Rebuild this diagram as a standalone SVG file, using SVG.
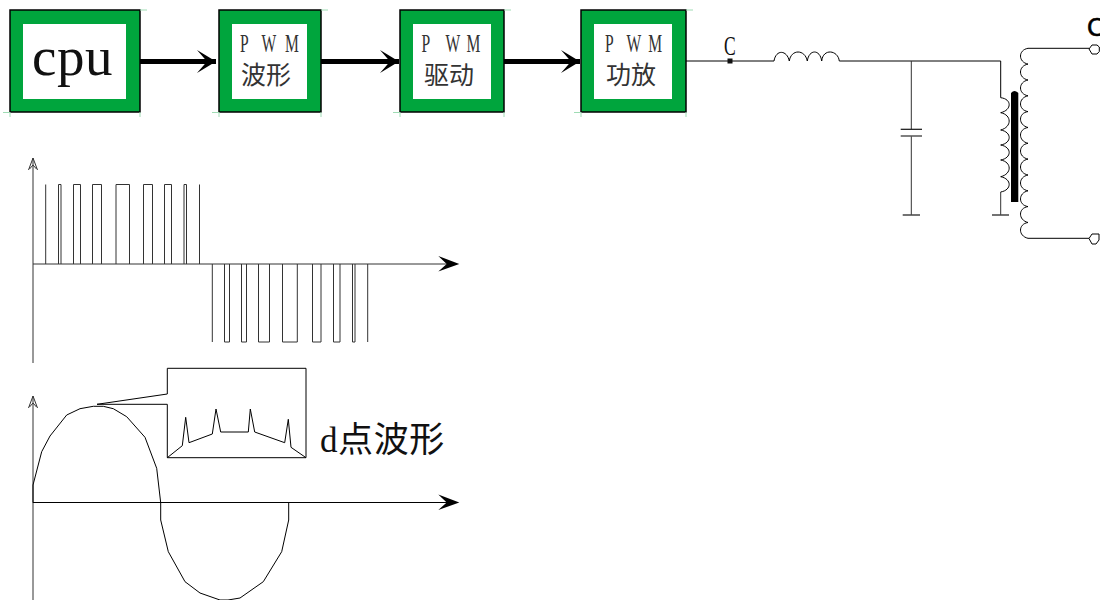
<svg xmlns="http://www.w3.org/2000/svg" width="1100" height="600" viewBox="0 0 1100 600">
<style>
.box{fill:#00a53d;stroke:#000;stroke-width:1.5}
.in{fill:#fff}
.tick{stroke:#9fdcb4;stroke-width:1;fill:none}
.w{fill:none;stroke:#000;stroke-width:1}
.g{fill:none;stroke:#333;stroke-width:1}
.thick{fill:none;stroke:#000;stroke-width:5}
.s{font-family:"Liberation Serif","Noto Sans CJK SC",serif;fill:#111}
.cjk{font-family:"Noto Sans CJK SC","Liberation Serif",serif;font-size:25px;fill:#333}
.pwm{font-family:"Liberation Serif",serif;font-size:26px;fill:#333}
</style>
<defs>
<marker id="big" markerUnits="userSpaceOnUse" markerWidth="22" markerHeight="26" refX="19" refY="12" orient="auto"><path d="M0,0.5 L19,12 L0,23.5 L10,12 Z" fill="#000"/></marker>
</defs>

<g id="cpu">
<rect class="box" x="10" y="10" width="130" height="102"/><rect class="in" x="23" y="24" width="103" height="75"/>
<path class="tick" d="M140,10H147M3,112.500H10M10,112V117M140,112V117"/>
<text class="s" x="32" y="75" font-size="55" letter-spacing=".6">cpu</text>
</g>
<g id="pwm-wave">
<rect class="box" x="219" y="10" width="102" height="102"/><rect class="in" x="232" y="24" width="75" height="75"/>
<path class="tick" d="M321,10H328M212,112.500H219M219,112V117M321,112V117"/>
<text class="pwm" transform="translate(240,52) scale(.6,1)" x="0 17 36 55 75">P W M</text>
<text class="cjk" x="241" y="84">波形</text>
</g>
<g id="pwm-drive">
<rect class="box" x="400" y="10" width="104" height="102"/><rect class="in" x="413" y="24" width="78" height="75"/>
<path class="tick" d="M504,10H511M393,112.500H400M400,112V117M504,112V117"/>
<text class="pwm" transform="translate(421.500,52) scale(.6,1)" x="0 19 40 57 75">P W M</text>
<text class="cjk" x="424" y="84">驱动</text>
</g>
<g id="pwm-amp">
<rect class="box" x="581" y="10" width="105" height="102"/><rect class="in" x="594" y="24" width="78" height="75"/>
<path class="tick" d="M686,10H693M574,112.500H581M581,112V117M686,112V117"/>
<text class="pwm" transform="translate(605,52) scale(.6,1)" x="0 18 36 55 72">P W M</text>
<text class="cjk" x="606" y="84">功放</text>
</g>

<g id="connectors">
<path class="thick" d="M140,61.500H216" marker-end="url(#big)"/>
<path class="thick" d="M321,61.500H399" marker-end="url(#big)"/>
<path class="thick" d="M504,61.500H580" marker-end="url(#big)"/>
<path class="w" d="M686,61H774"/>
<path class="w" d="M839.300,61H1000.700V97.700"/>
<path class="g" d="M911.300,61V129.300M911.300,136V215M1000.700,192V215"/>
<path class="w" d="M1028,48.300H1089M1028,238.300H1089"/>
</g>

<g id="node-c">
<rect x="727.500" y="58.500" width="5" height="5" fill="#111"/>
<text class="s" transform="translate(724,55) scale(.65,1)" x="0" y="0" font-size="27">C</text>
</g>
<g id="inductor">
<path class="w" d="M774,61C776,49 787,50 789.300,61C791,49 805,49 807.300,61C809,49 820,49 821.700,61C823,48 838,50 839.300,61"/>
</g>
<g id="capacitor">
<path d="M900.700,129.300H922" stroke="#111" stroke-width="1.200" fill="none"/>
<path d="M900.700,136H922" stroke="#555" stroke-width="1.500" fill="none"/>
<path d="M902.700,215H920" stroke="#444" stroke-width="1.500" fill="none"/>
</g>
<g id="transformer">
<path class="w" d="M1000.700,97.700C1012,99 1012,110 1000.700,112.700C1012,115 1012,127 1000.700,130C1012,132 1012,143 1000.700,145C1012,147 1012,158 1000.700,160C1012,162 1012,174 1000.700,176.700C1012,179 1012,190 1000.700,192"/>
<path d="M992,215H1009" stroke="#444" stroke-width="1.500" fill="none"/>
<path d="M1011,202V93Q1014.500,89 1018.300,93V202Z" fill="#000"/>
<path class="w" d="M1028,48.300C1018,50 1018,62 1028,64.100C1018,66 1018,78 1028,80C1018,82 1018,94 1028,95.800C1018,98 1018,110 1028,111.600C1018,113 1018,125 1028,127.500C1018,129 1018,141 1028,143.300C1018,145 1018,157 1028,159.100C1018,161 1018,173 1028,175C1018,177 1018,189 1028,190.800C1018,193 1018,205 1028,206.600C1018,208 1018,220 1028,222.500C1018,224 1018,236 1028,238.300"/>
</g>
<g id="terminals">
<path class="w" d="M1089,49L1092,45H1097L1099.300,47V51.500L1097,54H1092Z"/>
<path class="w" d="M1089,238.500L1092,234H1099V240L1096,244H1092Z"/>
<text x="1087" y="36" font-family="Liberation Sans,sans-serif" font-size="26" stroke="#000" stroke-width=".6" fill="#000">C</text>
</g>

<g id="pwm-waveform">
<path class="g" d="M33,363V158M28.500,170L33,158L37.500,170M29.500,169L33,165L36.500,169"/>
<path class="g" d="M33,264H450"/>
<path d="M438.300,256L459.300,264L438.300,271.500L446.700,264Z" fill="#000"/>
<path class="g" d="M45.700,264V184.500M58.500,264V184.500H61V264M73.500,264V184.500H80.500V264M92.500,264V184.500H101.500V264M116,264V184.500H129.500V264M143.500,264V184.500H152.500V264M164.500,264V184.500H171.500V264M184,264V184.500H186.500V264M199.500,264V184.500"/>
<path class="g" d="M212.300,264V342M224.500,264V342H229.500V264M241.500,264V342H246.500V264M258.500,264V342H269.500V264M282.500,264V342H297.300V264M312.500,264V342H321V264M333.500,264V342H340V264M352.500,264V342H355V264M367.700,264V342"/>
</g>

<g id="sine-waveform">
<path class="g" d="M33,600V396M28.500,408L33,396L37.500,408M29.500,407L33,403L36.500,407"/>
<path class="w" d="M33,502.500H450"/>
<path d="M438.300,494.500L459.300,502.500L438.300,510L446.700,502.500Z" fill="#000"/>
<path class="w" d="M33,502.700V485L41.700,451.700L50,436L66.700,415L80,408.700L93.300,406.300H103.300L113.300,408.700L126.700,416.700L145,437.300L156.700,468.300L160.700,502.700V520L168.300,551.700L185,581.700L200,593L220,600H228L240,598L263.300,581.700L281.700,551.700L288.700,520V502.700"/>
</g>
<g id="callout">
<path class="w" d="M97,404.300L167.300,394V368.300H306V457.700H167.300V404.300H97"/>
<path class="w" d="M167.300,457.700L182.300,445.700L185.700,417.300L189,442.700L212.300,434L216,409L220.700,432H248.300L250.300,409L254.700,432L284.700,442.700L288.300,419.300L291,447.300L306,457.700"/>
<text class="s" x="320" y="452" font-size="35" letter-spacing=".6">d点波形</text>
</g>
</svg>
